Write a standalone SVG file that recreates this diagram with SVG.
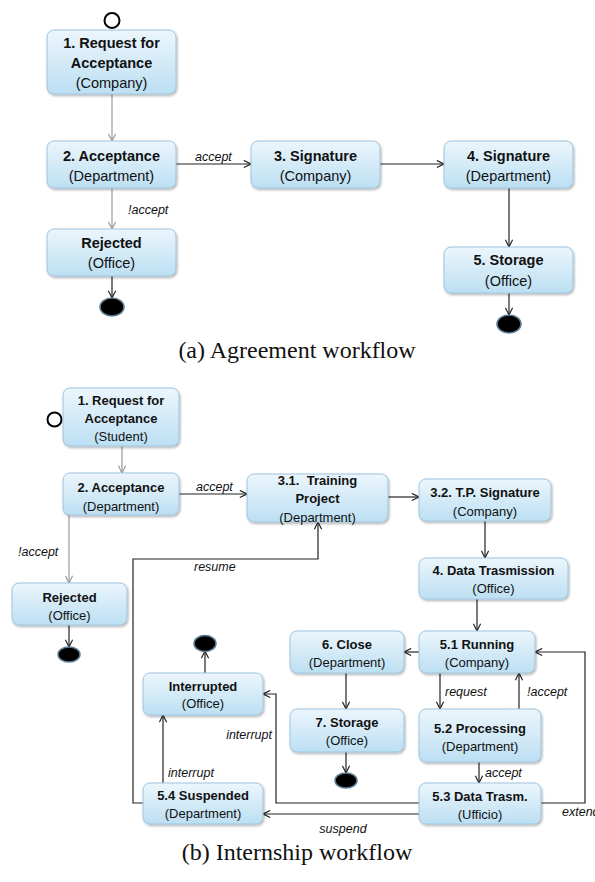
<svg xmlns="http://www.w3.org/2000/svg" width="595" height="882" viewBox="0 0 595 882">
  <defs>
    <linearGradient id="nodeFill" x1="0" y1="0" x2="0" y2="1">
      <stop offset="0" stop-color="#ecf6fc"/>
      <stop offset="1" stop-color="#bcdff3"/>
    </linearGradient>
    <filter id="shadow" x="-10%" y="-10%" width="125%" height="135%">
      <feDropShadow dx="1" dy="1.5" stdDeviation="1" flood-color="#000" flood-opacity="0.3"/>
    </filter>
    <marker id="arrow" viewBox="0 0 10 10" refX="9" refY="5" markerWidth="9" markerHeight="9" markerUnits="userSpaceOnUse" orient="auto">
      <path d="M1,1 L9,5 L1,9" fill="none" stroke="#222" stroke-width="1.3"/>
    </marker>
    <marker id="arrowGrey" viewBox="0 0 10 10" refX="9" refY="5" markerWidth="9" markerHeight="9" markerUnits="userSpaceOnUse" orient="auto">
      <path d="M1,1 L9,5 L1,9" fill="none" stroke="#999" stroke-width="1.3"/>
    </marker>
  </defs>
  <style>
    .node rect { fill: url(#nodeFill); stroke: #9ec4df; stroke-width: 1; filter: url(#shadow); }
    .node text { font-family: "Liberation Sans", Arial, sans-serif; text-anchor: middle; fill: #111; }
    .a text { font-size: 14.5px; }
    .b text { font-size: 13px; }
    .node .t { font-weight: bold; }
    .edge { fill: none; stroke: #222; stroke-width: 1.2; marker-end: url(#arrow); }
    .edge.grey { stroke: #999; marker-end: url(#arrowGrey); }
    .lbl { font-family: "Liberation Sans", Arial, sans-serif; font-style: italic; font-size: 12.5px; fill: #111; }
    .start { fill: #fff; stroke: #000; stroke-width: 2; }
    .end { fill: #000; stroke: #5d7d93; stroke-width: 1.5; }
    .caption { font-family: "Liberation Serif", "Times New Roman", serif; font-size: 24px; text-anchor: middle; fill: #111; }
  </style>

  <rect width="595" height="882" fill="#fff"/>

  <!-- ===== (a) Agreement workflow ===== -->
  <g id="connectors-a">
    <path class="edge grey" d="M112,94 V141"/>
    <path class="edge" d="M176,164 H251"/>
    <path class="edge" d="M380,164 H444"/>
    <path class="edge grey" d="M112,188 V229"/>
    <path class="edge" d="M112,276 V298"/>
    <path class="edge" d="M509,188 V247"/>
    <path class="edge" d="M509,293 V315"/>
    <text class="lbl" x="195" y="161">accept</text>
    <text class="lbl" x="128" y="214">!accept</text>
  </g>

  <circle id="a-start" class="start" cx="112" cy="20.5" r="7.5"/>
  <ellipse id="a-end-rejected" class="end" cx="112" cy="307" rx="12" ry="9"/>
  <ellipse id="a-end-storage" class="end" cx="509" cy="324" rx="12" ry="9"/>

  <g id="a-request" class="node a">
    <rect x="47" y="30" width="129" height="64" rx="7"/>
    <text class="t" x="111.5" y="48">1. Request for</text>
    <text class="t" x="111.5" y="68">Acceptance</text>
    <text x="111.5" y="88">(Company)</text>
  </g>
  <g id="a-acceptance" class="node a">
    <rect x="47" y="141" width="129" height="47" rx="7"/>
    <text class="t" x="111.5" y="161">2. Acceptance</text>
    <text x="111.5" y="181">(Department)</text>
  </g>
  <g id="a-signature-company" class="node a">
    <rect x="251" y="141" width="129" height="47" rx="7"/>
    <text class="t" x="315.5" y="161">3. Signature</text>
    <text x="315.5" y="181">(Company)</text>
  </g>
  <g id="a-signature-department" class="node a">
    <rect x="444" y="141" width="129" height="47" rx="7"/>
    <text class="t" x="508.5" y="161">4. Signature</text>
    <text x="508.5" y="181">(Department)</text>
  </g>
  <g id="a-rejected" class="node a">
    <rect x="47" y="229" width="129" height="47" rx="7"/>
    <text class="t" x="111.5" y="248">Rejected</text>
    <text x="111.5" y="268">(Office)</text>
  </g>
  <g id="a-storage" class="node a">
    <rect x="444" y="247" width="129" height="46" rx="7"/>
    <text class="t" x="508.5" y="265">5. Storage</text>
    <text x="508.5" y="286">(Office)</text>
  </g>

  <text class="caption" x="297" y="358">(a)  Agreement workflow</text>

  <!-- ===== (b) Internship workflow ===== -->
  <g id="connectors-b">
    <path class="edge grey" d="M122,446 V473"/>
    <path class="edge" d="M179,494 H247"/>
    <path class="edge grey" d="M69,515 V583"/>
    <path class="edge" d="M69,625 V647"/>
    <path class="edge" d="M388,497 H419"/>
    <path class="edge" d="M485,521 V558"/>
    <path class="edge" d="M477,599 V631"/>
    <path class="edge" d="M419,652 H404"/>
    <path class="edge" d="M346,673 V709"/>
    <path class="edge" d="M346,752 V773"/>
    <path class="edge" d="M440,673 V709"/>
    <path class="edge" d="M519,709 V673"/>
    <path class="edge" d="M479,762 V783"/>
    <path class="edge" d="M541,803 H585 V652 H535"/>
    <path class="edge" d="M419,803 H276 V694 H263"/>
    <path class="edge" d="M419,814 H263"/>
    <path class="edge" d="M163,783 V715"/>
    <path class="edge" d="M205,673 V651"/>
    <path class="edge" d="M143,803 H133 V559 H318 V522"/>
    <text class="lbl" x="196" y="491">accept</text>
    <text class="lbl" x="18" y="556">!accept</text>
    <text class="lbl" x="194" y="571">resume</text>
    <text class="lbl" x="445" y="696">request</text>
    <text class="lbl" x="527" y="696">!accept</text>
    <text class="lbl" x="485" y="777">accept</text>
    <text class="lbl" x="562" y="816">extend</text>
    <text class="lbl" x="272" y="739" text-anchor="end">interrupt</text>
    <text class="lbl" x="168" y="777">interrupt</text>
    <text class="lbl" x="343" y="833" text-anchor="middle">suspend</text>
  </g>

  <circle id="b-start" class="start" cx="54.5" cy="419.5" r="7"/>
  <ellipse id="b-end-rejected" class="end" cx="69" cy="654.5" rx="11" ry="7.5"/>
  <ellipse id="b-end-interrupted" class="end" cx="205" cy="643.5" rx="11" ry="8"/>
  <ellipse id="b-end-storage" class="end" cx="346" cy="780.5" rx="11" ry="7.5"/>

  <g id="b-request" class="node b">
    <rect x="63" y="388" width="116" height="58" rx="7"/>
    <text class="t" x="121" y="405">1. Request for</text>
    <text class="t" x="121" y="423">Acceptance</text>
    <text x="121" y="441">(Student)</text>
  </g>
  <g id="b-acceptance" class="node b">
    <rect x="63" y="473" width="116" height="42" rx="7"/>
    <text class="t" x="121" y="492">2. Acceptance</text>
    <text x="121" y="511">(Department)</text>
  </g>
  <g id="b-training-project" class="node b">
    <rect x="247" y="474" width="141" height="48" rx="7"/>
    <text class="t" x="317.5" y="485" xml:space="preserve">3.1.  Training</text>
    <text class="t" x="317.5" y="503">Project</text>
    <text x="317.5" y="522">(Department)</text>
  </g>
  <g id="b-tp-signature" class="node b">
    <rect x="419" y="479" width="132" height="42" rx="7"/>
    <text class="t" x="485" y="497">3.2. T.P. Signature</text>
    <text x="485" y="516">(Company)</text>
  </g>
  <g id="b-data-transmission" class="node b">
    <rect x="419" y="558" width="149" height="41" rx="7"/>
    <text class="t" x="493.5" y="575">4. Data Trasmission</text>
    <text x="493.5" y="593">(Office)</text>
  </g>
  <g id="b-rejected" class="node b">
    <rect x="12" y="583" width="115" height="42" rx="7"/>
    <text class="t" x="69.5" y="602">Rejected</text>
    <text x="69.5" y="620">(Office)</text>
  </g>
  <g id="b-running" class="node b">
    <rect x="419" y="631" width="116" height="42" rx="7"/>
    <text class="t" x="477" y="649">5.1 Running</text>
    <text x="477" y="667">(Company)</text>
  </g>
  <g id="b-close" class="node b">
    <rect x="290" y="631" width="114" height="42" rx="7"/>
    <text class="t" x="347" y="649">6. Close</text>
    <text x="347" y="667">(Department)</text>
  </g>
  <g id="b-storage" class="node b">
    <rect x="290" y="709" width="114" height="43" rx="7"/>
    <text class="t" x="347" y="727">7. Storage</text>
    <text x="347" y="745">(Office)</text>
  </g>
  <g id="b-processing" class="node b">
    <rect x="419" y="709" width="122" height="53" rx="7"/>
    <text class="t" x="480" y="733">5.2 Processing</text>
    <text x="480" y="751">(Department)</text>
  </g>
  <g id="b-interrupted" class="node b">
    <rect x="143" y="673" width="120" height="42" rx="7"/>
    <text class="t" x="203" y="691">Interrupted</text>
    <text x="203" y="708">(Office)</text>
  </g>
  <g id="b-data-trasm" class="node b">
    <rect x="419" y="783" width="122" height="41" rx="7"/>
    <text class="t" x="480" y="801">5.3 Data Trasm.</text>
    <text x="480" y="819">(Ufficio)</text>
  </g>
  <g id="b-suspended" class="node b">
    <rect x="143" y="783" width="120" height="41" rx="7"/>
    <text class="t" x="203" y="800">5.4 Suspended</text>
    <text x="203" y="818">(Department)</text>
  </g>

  <text class="caption" x="297" y="860">(b)  Internship workflow</text>
</svg>
